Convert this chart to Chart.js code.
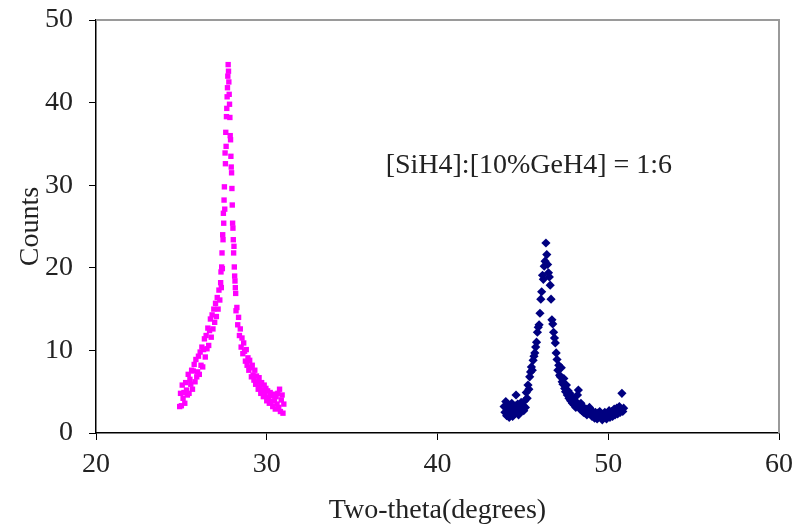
<!DOCTYPE html>
<html>
<head>
<meta charset="utf-8">
<script src="https://cdn.jsdelivr.net/npm/chart.js@4.4.0/dist/chart.umd.min.js"></script>
<style>
  html, body { margin: 0; padding: 0; background: #fff; }
  #wrap { width: 796px; height: 527px; }
</style>
</head>
<body>
<div id="wrap"><canvas id="myChart" width="796" height="527"></canvas></div>
<script>
// Si (111) peak, magenta squares
const siTheta = [
  24.90, 24.95, 25.00, 25.05, 25.10, 25.15, 25.20, 25.25, 25.30, 25.35,
  25.40, 25.45, 25.50, 25.55, 25.60, 25.65, 25.70, 25.75, 25.80, 25.85,
  25.90, 25.95, 26.00, 26.05, 26.10, 26.15, 26.20, 26.25, 26.30, 26.35,
  26.40, 26.45, 26.50, 26.55, 26.60, 26.65, 26.70, 26.75, 26.80, 26.85,
  26.90, 26.95, 27.00, 27.05, 27.10, 27.15, 27.20, 27.25,
  27.30, 27.32, 27.34, 27.36, 27.38, 27.40, 27.42, 27.44, 27.46, 27.48,
  27.50, 27.52, 27.54, 27.56, 27.58, 27.60, 27.62, 27.64, 27.66, 27.68,
  27.70, 27.72, 27.74, 27.76, 27.78, 27.80, 27.82, 27.84, 27.86, 27.88,
  27.90, 27.92, 27.94, 27.96, 27.98, 28.00, 28.02, 28.04, 28.06, 28.08,
  28.10, 28.12, 28.14, 28.16, 28.18, 28.20,
  28.25, 28.30, 28.35, 28.40, 28.45, 28.50, 28.55, 28.60, 28.65, 28.70,
  28.75, 28.80, 28.85, 28.90, 28.95, 29.00, 29.05, 29.10, 29.15, 29.20,
  29.25, 29.30, 29.35, 29.40, 29.45, 29.50, 29.55, 29.60, 29.65, 29.70,
  29.75, 29.80, 29.85, 29.90, 29.95, 30.00, 30.05, 30.10, 30.15, 30.20,
  30.25, 30.30, 30.35, 30.40, 30.45, 30.50, 30.55, 30.60, 30.65, 30.70,
  30.75, 30.80, 30.85, 30.90, 30.95, 31.00
];
const siCounts = [
  3.2, 4.8, 3.3, 5.8, 4.2, 4.9, 3.6, 6.1, 5.2, 4.6,
  7.1, 4.8, 6.5, 5.9, 7.6, 5.3, 7.5, 8.3, 6.2, 8.9,
  6.8, 7.4, 9.3, 7.1, 9.8, 8.2, 10.4, 8.0, 10.1, 11.4,
  9.2, 11.8, 10.2, 12.7, 10.6, 12.4, 13.8, 11.6, 14.3, 12.6,
  15.0, 13.4, 15.7, 14.1, 16.4, 15.0, 17.3, 16.1,
  18.2, 19.5, 17.6, 20.1, 21.8, 19.9, 24.0, 23.4, 26.6, 25.4,
  28.2, 29.8, 27.1, 33.9, 32.6, 36.4, 34.7, 38.3, 39.3, 40.7,
  41.8, 43.2, 44.6, 43.8, 42.5, 41.0, 39.8, 38.2, 36.0, 35.5,
  33.5, 32.2, 31.5, 29.6, 27.6, 25.4, 24.8, 23.4, 21.8, 22.6,
  20.1, 19.0, 18.4, 17.6, 16.9, 14.8,
  15.2, 13.1, 14.0, 11.8, 12.6, 10.4, 11.5, 9.6, 10.9, 9.9,
  8.7, 10.1, 8.2, 9.1, 7.6, 8.8, 7.9, 6.8, 8.2, 7.0,
  6.4, 7.6, 5.9, 6.9, 6.2, 5.3, 6.7, 5.6, 4.8, 6.1,
  5.2, 4.4, 5.8, 4.7, 5.4, 3.9, 5.1, 4.3, 3.6, 4.9,
  3.8, 4.5, 3.2, 4.7, 3.9, 2.9, 4.4, 3.5, 4.8, 3.1,
  5.3, 2.6, 4.0, 4.6, 2.4, 3.5
];

// Ge (220) peak, navy diamonds
const geTheta = [
  43.90, 43.95, 44.00, 44.05, 44.10, 44.15, 44.20, 44.25, 44.30, 44.35,
  44.40, 44.45, 44.50, 44.55, 44.60, 44.65, 44.70, 44.75, 44.80, 44.85,
  44.90, 44.95, 45.00, 45.05, 45.10, 45.15, 45.20, 45.25, 45.30, 45.35,
  45.40, 45.45, 45.50, 45.55, 45.60, 45.65, 45.70, 45.75, 45.80, 45.85,
  45.90, 45.95, 46.00, 46.05, 46.10, 46.15, 46.20, 46.25, 46.30, 46.35,
  46.40, 46.45, 46.50, 46.55, 46.60, 46.65, 46.70, 46.75, 46.80, 46.85,
  46.90, 46.95, 47.00, 47.05, 47.10, 47.15, 47.20, 47.25, 47.30, 47.35,
  47.40, 47.45, 47.50, 47.55, 47.60, 47.65, 47.70, 47.75, 47.80, 47.85,
  47.90, 47.95, 48.00, 48.05, 48.10, 48.15, 48.20, 48.25, 48.30, 48.35,
  48.40, 48.45, 48.50, 48.55, 48.60, 48.65, 48.70, 48.75, 48.80, 48.85,
  48.90, 48.95, 49.00, 49.05, 49.10, 49.15, 49.20, 49.25, 49.30, 49.35,
  49.40, 49.45, 49.50, 49.55, 49.60, 49.65, 49.70, 49.75, 49.80, 49.85,
  49.90, 49.95, 50.00, 50.05, 50.10, 50.15, 50.20, 50.25, 50.30, 50.35,
  50.40, 50.45, 50.50, 50.55, 50.60, 50.65, 50.70, 50.75, 50.80, 50.85,
  50.90
];
const geCounts = [
  3.2, 2.5, 3.8, 2.1, 3.4, 2.8, 1.9, 3.1, 2.4, 3.6,
  2.0, 2.9, 2.3, 3.3, 4.6, 2.6, 3.5, 2.2, 3.0, 2.5,
  3.7, 2.8, 3.3, 2.7, 3.9, 3.1, 4.9, 4.2, 5.8, 5.3,
  6.8, 7.4, 8.0, 7.6, 8.8, 9.3, 9.7, 10.4, 11.0, 12.2,
  12.8, 13.1, 14.5, 16.2, 17.1, 19.1, 18.6, 20.2, 20.8, 23.0,
  21.6, 20.4, 19.4, 18.9, 17.9, 16.2, 13.7, 13.2, 12.2, 11.5,
  10.9, 9.7, 8.9, 7.6, 8.2, 7.0, 6.8, 7.9, 6.2, 5.9,
  6.6, 5.4, 5.0, 5.8, 4.6, 5.1, 4.2, 4.8, 3.9, 4.4,
  3.6, 4.1, 3.4, 3.9, 3.1, 3.7, 4.6, 5.2, 3.3, 2.9,
  3.6, 2.7, 3.2, 2.5, 3.0, 2.4, 2.9, 2.2, 2.8, 2.5,
  3.1, 2.3, 2.7, 2.0, 2.6, 2.2, 1.8, 2.5, 2.1, 1.7,
  2.4, 2.0, 2.6, 1.9, 2.2, 1.6, 2.3, 1.9, 2.5, 2.0,
  1.7, 2.4, 2.1, 2.7, 1.9, 2.3, 2.6, 2.0, 2.4, 2.9,
  2.2, 2.6, 3.0, 2.3, 2.7, 3.2, 2.5, 2.9, 4.8, 2.6,
  3.0
];

const xTicks = [20, 30, 40, 50, 60];
const yTicks = [0, 10, 20, 30, 40, 50];
const note = "[SiH4]:[10%GeH4] = 1:6";
const notePos = { x: 45.35, y: 32.4 };

const serif = "'Liberation Serif', 'DejaVu Serif', serif";

const toPoints = (xs, ys) => xs.map((x, i) => ({ x: x, y: ys[i] }));

// grey frame on top and right, plus the ratio label
const framePlugin = {
  id: "frame",
  beforeDatasetsDraw(chart) {
    const { ctx, chartArea: a } = chart;
    ctx.save();
    ctx.strokeStyle = "#9a9a9a";
    ctx.lineWidth = 2;
    ctx.beginPath();
    ctx.moveTo(a.left, a.top);
    ctx.lineTo(a.right, a.top);
    ctx.lineTo(a.right, a.bottom);
    ctx.stroke();
    ctx.restore();
  },
  afterDatasetsDraw(chart) {
    const { ctx, scales } = chart;
    ctx.save();
    ctx.font = "28px " + serif;
    ctx.fillStyle = "#222";
    ctx.textAlign = "center";
    ctx.textBaseline = "middle";
    ctx.fillText(note, scales.x.getPixelForValue(notePos.x), scales.y.getPixelForValue(notePos.y));
    ctx.restore();
  }
};

const ctx = document.getElementById("myChart").getContext("2d");
new Chart(ctx, {
  type: "scatter",
  data: {
    datasets: [
      {
        label: "Si",
        data: toPoints(siTheta, siCounts),
        pointStyle: "rect",
        pointRadius: 3.8,
        backgroundColor: "#ff00ff",
        borderColor: "#ff00ff",
        borderWidth: 0
      },
      {
        label: "Ge",
        data: toPoints(geTheta, geCounts),
        pointStyle: "rectRot",
        pointRadius: 4.6,
        backgroundColor: "#000080",
        borderColor: "#000080",
        borderWidth: 0
      }
    ]
  },
  options: {
    responsive: false,
    animation: false,
    layout: { padding: { top: 20, right: 17, left: 0, bottom: 0 } },
    plugins: {
      legend: { display: false },
      tooltip: { enabled: false }
    },
    scales: {
      x: {
        type: "linear",
        min: 20,
        max: 60,
        afterBuildTicks: (s) => { s.ticks = xTicks.map((v) => ({ value: v })); },
        afterFit: (s) => { s.height = 94; s.paddingLeft = 0; s.paddingRight = 0; },
        grid: { drawOnChartArea: false, drawTicks: true, tickLength: 7, color: "#000" },
        border: { display: true, color: "#000", width: 1.5 },
        ticks: { color: "#222", padding: 8, font: { family: serif, size: 28 } },
        title: {
          display: true,
          text: "Two-theta(degrees)",
          color: "#222",
          font: { family: serif, size: 28 },
          padding: { top: 0, bottom: 0 }
        }
      },
      y: {
        min: 0,
        max: 50,
        afterBuildTicks: (s) => { s.ticks = yTicks.map((v) => ({ value: v })); },
        afterFit: (s) => { s.width = 96; s.paddingTop = 0; s.paddingBottom = 0; },
        grid: { drawOnChartArea: false, drawTicks: true, tickLength: 7, color: "#000" },
        border: { display: true, color: "#000", width: 1.5 },
        ticks: { color: "#222", padding: 16, font: { family: serif, size: 28 } },
        title: {
          display: true,
          text: "Counts",
          color: "#222",
          font: { family: serif, size: 28 },
          padding: { top: 14, bottom: 0 }
        }
      }
    }
  },
  plugins: [framePlugin]
});
</script>
</body>
</html>
